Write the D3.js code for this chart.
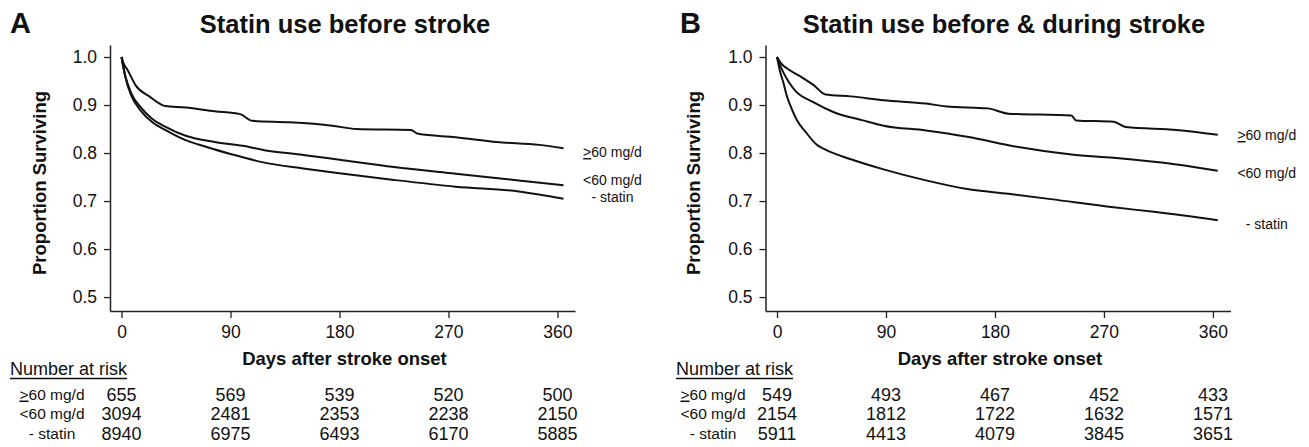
<!DOCTYPE html>
<html>
<head>
<meta charset="utf-8">
<script src="https://cdn.jsdelivr.net/npm/d3@7"></script>
<style>
  body { margin: 0; background: #fff; }
  text { font-family: "Liberation Sans", Arial, Helvetica, sans-serif; fill: #111; }
</style>
</head>
<body>
<svg width="1309" height="447"></svg>
<script>
// survival curves, [day, proportion surviving]
var aHigh = [[0,1.0],[2,0.985],[5,0.973],[12,0.94],[23,0.918],[36,0.898],[53,0.895],[77,0.887],[98,0.881],[108,0.867],[139,0.864],[174,0.857],[194,0.85],[239,0.848],[245,0.84],[276,0.833],[310,0.823],[345,0.817],[365,0.81]];
var aLow  = [[0,1.0],[3,0.962],[8,0.925],[16,0.895],[25,0.872],[36,0.855],[53,0.836],[77,0.823],[100,0.815],[118,0.806],[150,0.796],[180,0.786],[225,0.771],[276,0.757],[328,0.743],[365,0.733]];
var aNone = [[0,1.0],[3,0.96],[8,0.92],[16,0.888],[25,0.865],[36,0.848],[50,0.83],[71,0.812],[90,0.798],[118,0.78],[150,0.768],[180,0.758],[225,0.744],[276,0.73],[328,0.72],[365,0.705]];

var bHigh = [[0,1.0],[4,0.985],[9,0.975],[19,0.96],[30,0.942],[40,0.922],[61,0.918],[88,0.91],[123,0.903],[140,0.897],[174,0.893],[191,0.882],[243,0.878],[247,0.868],[278,0.865],[288,0.854],[330,0.848],[364,0.838]];
var bLow  = [[0,1.0],[5,0.969],[10,0.947],[15,0.93],[30,0.906],[47,0.885],[71,0.868],[88,0.857],[123,0.847],[157,0.834],[198,0.813],[243,0.797],[278,0.79],[330,0.776],[364,0.763]];
var bNone = [[0,1.0],[3,0.965],[5,0.949],[8,0.92],[12,0.893],[17,0.866],[23,0.846],[33,0.817],[40,0.807],[61,0.787],[88,0.766],[123,0.743],[157,0.725],[191,0.715],[226,0.704],[278,0.687],[313,0.677],[364,0.66]];

var groups = [">60 mg/d", "<60 mg/d", "- statin"];
var dayTicks = [0, 90, 180, 270, 360];
var survTicks = [0.5, 0.6, 0.7, 0.8, 0.9, 1.0];

// number at risk, one row per group, one column per day tick
var riskA = [[655, 569, 539, 520, 500], [3094, 2481, 2353, 2238, 2150], [8940, 6975, 6493, 6170, 5885]];
var riskB = [[549, 493, 467, 452, 433], [2154, 1812, 1722, 1632, 1571], [5911, 4413, 4079, 3845, 3651]];

// where the group labels sit next to the curve ends (proportion)
var labelA = [0.802, 0.744, 0.708];
var labelB = [0.8375, 0.758, 0.652];

var panels = [
  {letter: "A", title: "Statin use before stroke", curves: [aHigh, aLow, aNone], risk: riskA, labels: labelA,
   ox: 0, letterX: 10, titleX: 345, ylabX: 45.5, tableX: 10, rowLabX: 52},
  {letter: "B", title: "Statin use before & during stroke", curves: [bHigh, bLow, bNone], risk: riskB, labels: labelB,
   ox: 655.5, letterX: 680, titleX: 1004, ylabX: 700, tableX: 676, rowLabX: 713}
];

var svg = d3.select("svg");

var y = d3.scaleLinear().domain([0.471, 1.025]).range([311, 45]);

// writes a group name, underlining the ">" so it reads as ">="
function groupText(sel, name, i) {
  if (i === 0) {
    sel.append("tspan").style("text-decoration", "underline").text(name.charAt(0));
    sel.append("tspan").text(name.slice(1));
  } else {
    sel.text(name);
  }
}

panels.forEach(function(p) {
  var x = d3.scaleLinear().domain([-9.5, 374.5]).range([p.ox + 110, p.ox + 575]);
  var g = svg.append("g");

  g.append("text")
      .attr("x", p.letterX).attr("y", 33)
      .style("font-size", "29px").style("font-weight", "bold")
      .text(p.letter);

  g.append("text")
      .attr("x", p.titleX).attr("y", 33)
      .attr("text-anchor", "middle")
      .style("font-size", "25.5px").style("font-weight", "bold")
      .text(p.title);

  var yAxis = g.append("g")
      .attr("transform", "translate(" + (p.ox + 110) + ",0)")
      .call(d3.axisLeft(y).tickValues(survTicks).tickFormat(d3.format(".1f"))
        .tickSize(6).tickPadding(7).tickSizeOuter(0));

  var xAxis = g.append("g")
      .attr("transform", "translate(0,311)")
      .call(d3.axisBottom(x).tickValues(dayTicks).tickSize(7).tickPadding(8).tickSizeOuter(0));

  [yAxis, xAxis].forEach(function(a) {
    a.select(".domain").attr("stroke", "#222").attr("stroke-width", 1.5);
    a.selectAll(".tick line").attr("stroke", "#222").attr("stroke-width", 1.3);
    a.selectAll(".tick text").style("font-size", "17.5px").attr("fill", "#111")
      .style("font-family", "'Liberation Sans', Arial, sans-serif");
  });

  g.append("text")
      .attr("transform", "translate(" + p.ylabX + ",183) rotate(-90)")
      .attr("text-anchor", "middle")
      .style("font-size", "18.5px").style("font-weight", "bold")
      .text("Proportion Surviving");

  g.append("text")
      .attr("x", x(180) + 5).attr("y", 364.5)
      .attr("text-anchor", "middle")
      .style("font-size", "18.5px").style("font-weight", "bold")
      .text("Days after stroke onset");

  var line = d3.line()
      .x(function(d) { return x(d[0]); })
      .y(function(d) { return y(d[1]); })
      .curve(d3.curveMonotoneX);

  g.selectAll(".curve")
    .data(p.curves)
    .enter().append("path")
      .attr("class", "curve")
      .attr("fill", "none")
      .attr("stroke", "#111")
      .attr("stroke-width", 2)
      .attr("stroke-linejoin", "round")
      .attr("d", line);

  g.selectAll(".endlab")
    .data(groups)
    .enter().append("text")
      .attr("class", "endlab")
      .attr("x", function(d, i) { return x(p.curves[i][p.curves[i].length - 1][0]) + 49; })
      .attr("y", function(d, i) { return y(p.labels[i]) + 5; })
      .attr("text-anchor", "middle")
      .style("font-size", "14px")
      .each(function(d, i) { groupText(d3.select(this), d, i); });

  // number at risk table
  var head = g.append("text")
      .attr("x", p.tableX).attr("y", 374.5)
      .style("font-size", "18px")
      .text("Number at risk");
  var w = head.node().getComputedTextLength();
  g.append("line")
      .attr("x1", p.tableX).attr("x2", p.tableX + w)
      .attr("y1", 378.5).attr("y2", 378.5)
      .attr("stroke", "#111").attr("stroke-width", 1.4);

  var rowY = [394, 413.5, 433];
  p.risk.forEach(function(row, i) {
    g.append("text")
        .attr("x", p.rowLabX).attr("y", rowY[i] + 5.5)
        .attr("text-anchor", "middle")
        .style("font-size", "15.5px")
        .call(function(s) { groupText(s, groups[i], i); });

    g.selectAll(".risk" + i)
      .data(row)
      .enter().append("text")
        .attr("x", function(d, j) { return x(dayTicks[j]); })
        .attr("y", rowY[i] + 6.5)
        .attr("text-anchor", "middle")
        .style("font-size", "18px")
        .text(function(d) { return d; });
  });
});
</script>
</body>
</html>
